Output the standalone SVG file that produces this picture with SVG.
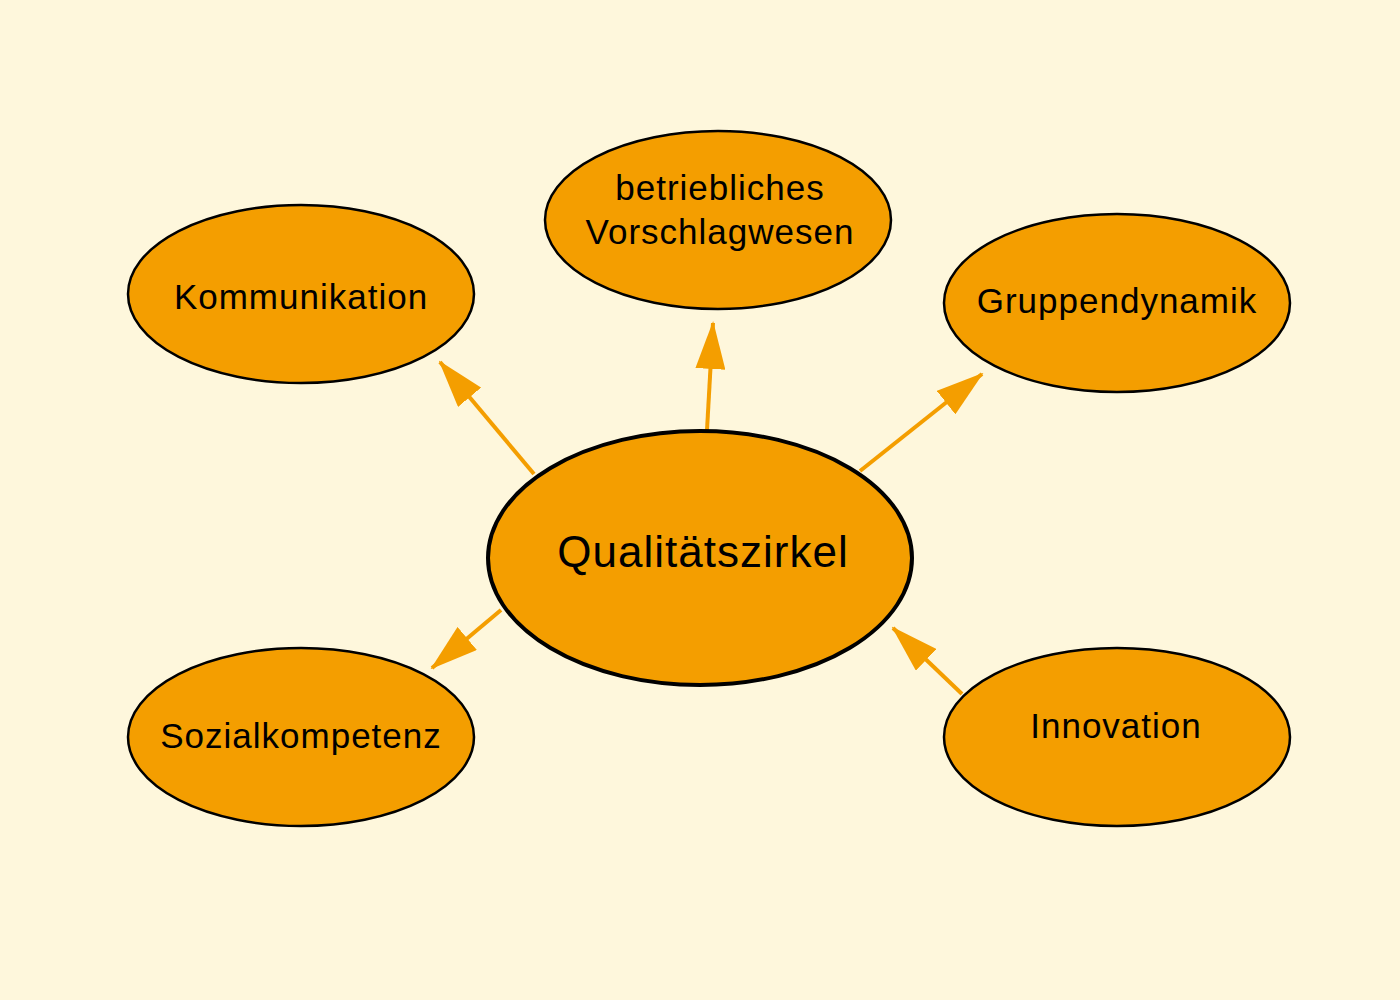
<svg xmlns="http://www.w3.org/2000/svg" width="1400" height="1000" viewBox="0 0 1400 1000">
<defs>
<marker id="ah" markerUnits="userSpaceOnUse" markerWidth="48" markerHeight="30" refX="46" refY="15" orient="auto">
<path d="M0,0 L48,15 L0,30 z" fill="#F49E00"/>
</marker>
<style>
.node{fill:#F49E00;stroke:#000;stroke-width:2.5}
.center{fill:#F49E00;stroke:#000;stroke-width:4}
.lbl{font-family:"Liberation Sans",Arial,sans-serif;font-size:35px;fill:#000;text-anchor:middle;letter-spacing:1px}
.clbl{font-family:"Liberation Sans",Arial,sans-serif;font-size:44px;fill:#000;text-anchor:middle;letter-spacing:1px}
.conn{stroke:#F49E00;stroke-width:4;fill:none;marker-end:url(#ah)}
</style>
</defs>
<rect width="1400" height="1000" fill="#FEF7DC"/>
<g id="connectors">
<line class="conn" x1="534" y1="474" x2="440" y2="362"/>
<line class="conn" x1="707" y1="430" x2="713" y2="323"/>
<line class="conn" x1="860" y1="471" x2="982" y2="374"/>
<line class="conn" x1="501" y1="610" x2="432" y2="668"/>
<line class="conn" x1="962" y1="694" x2="893" y2="628"/>
</g>
<g id="kommunikation">
<ellipse class="node" cx="301" cy="294" rx="173" ry="89"/>
<text class="lbl" x="301" y="309">Kommunikation</text>
</g>
<g id="vorschlagwesen">
<ellipse class="node" cx="718" cy="220" rx="173" ry="89"/>
<text class="lbl" x="720" y="200">betriebliches</text>
<text class="lbl" x="720" y="244">Vorschlagwesen</text>
</g>
<g id="gruppendynamik">
<ellipse class="node" cx="1117" cy="303" rx="173" ry="89"/>
<text class="lbl" x="1117" y="313">Gruppendynamik</text>
</g>
<g id="sozialkompetenz">
<ellipse class="node" cx="301" cy="737" rx="173" ry="89"/>
<text class="lbl" x="301" y="748">Sozialkompetenz</text>
</g>
<g id="innovation">
<ellipse class="node" cx="1117" cy="737" rx="173" ry="89"/>
<text class="lbl" x="1116" y="738">Innovation</text>
</g>
<g id="qualitaetszirkel">
<ellipse class="center" cx="700" cy="558" rx="212" ry="127"/>
<text class="clbl" x="703" y="567">Qualitätszirkel</text>
</g>
</svg>
